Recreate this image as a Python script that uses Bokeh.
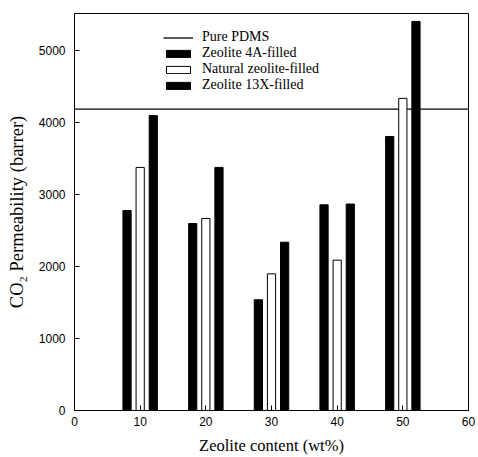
from bokeh.plotting import figure
from bokeh.models import Legend, LegendItem, FixedTicker, Range1d
from bokeh.embed import file_html
from bokeh.resources import INLINE

# Data
contents = [10, 20, 30, 40, 50]
zeolite_4a = [2780, 2600, 1540, 2860, 3810]
natural_zeolite = [3380, 2670, 1900, 2090, 4340]
zeolite_13x = [4100, 3380, 2340, 2870, 5410]
pure_pdms = 4190
x_ticks = [0, 10, 20, 30, 40, 50, 60]
y_ticks = [0, 1000, 2000, 3000, 4000, 5000]
x_lo, x_hi = 0, 60
y_lo, y_hi = 0, 5520

offset = 2.0
bar_w = 1.25

p = figure(width=478, height=457, output_backend="svg", toolbar_location=None,
           x_range=Range1d(x_lo, x_hi), y_range=Range1d(y_lo, y_hi),
           min_border_left=74, min_border_right=10, min_border_top=13, min_border_bottom=47)

p.xgrid.visible = False
p.ygrid.visible = False
p.outline_line_color = "black"
p.outline_line_width = 1
p.background_fill_color = "white"
p.border_fill_color = "white"

r_pdms = p.line([x_lo, x_hi], [pure_pdms, pure_pdms], line_color="black", line_width=1.3)
r_4a = p.vbar(x=[c - offset for c in contents], top=zeolite_4a, width=bar_w,
              fill_color="black", line_color="black")
r_nat = p.vbar(x=contents, top=natural_zeolite, width=bar_w,
               fill_color="white", line_color="black", line_width=1)
r_13x = p.vbar(x=[c + offset for c in contents], top=zeolite_13x, width=bar_w,
               fill_color="black", line_color="black")

for ax in (p.xaxis[0], p.yaxis[0]):
    ax.major_tick_in = 5
    ax.major_tick_out = 0
    ax.minor_tick_in = 0
    ax.minor_tick_out = 0
    ax.axis_line_color = "black"
    ax.major_tick_line_color = "black"
    ax.major_label_text_font = "Liberation Sans"
    ax.major_label_text_font_size = "12px"
    ax.major_label_text_color = "black"
    ax.axis_label_text_font = "Liberation Serif"
    ax.axis_label_text_font_style = "normal"
    ax.axis_label_text_color = "black"

p.xaxis[0].axis_label_text_font_size = "16.5px"
p.yaxis[0].axis_label_text_font_size = "18.5px"
p.xaxis[0].ticker = FixedTicker(ticks=x_ticks)
p.yaxis[0].ticker = FixedTicker(ticks=y_ticks)
p.xaxis[0].major_label_standoff = 6
p.xaxis[0].axis_label_standoff = 7
p.yaxis[0].major_label_standoff = 9
p.yaxis[0].axis_label_standoff = 9
p.xaxis[0].axis_label = "Zeolite content (wt%)"
p.yaxis[0].axis_label = "CO\u2082 Permeability (barrer)"

legend = Legend(items=[
    LegendItem(label="Pure PDMS", renderers=[r_pdms]),
    LegendItem(label="Zeolite 4A-filled", renderers=[r_4a]),
    LegendItem(label="Natural zeolite-filled", renderers=[r_nat]),
    LegendItem(label="Zeolite 13X-filled", renderers=[r_13x]),
], location=(89, 317))
legend.label_text_font = "Liberation Serif"
legend.label_text_font_size = "14px"
legend.label_text_color = "black"
legend.glyph_width = 30
legend.glyph_height = 9
legend.label_height = 16
legend.spacing = -1
legend.padding = 0
legend.margin = 0
legend.label_standoff = 9
legend.border_line_color = None
legend.background_fill_alpha = 0
p.add_layout(legend, "center")

open("out.html", "w").write(file_html(p, INLINE))
